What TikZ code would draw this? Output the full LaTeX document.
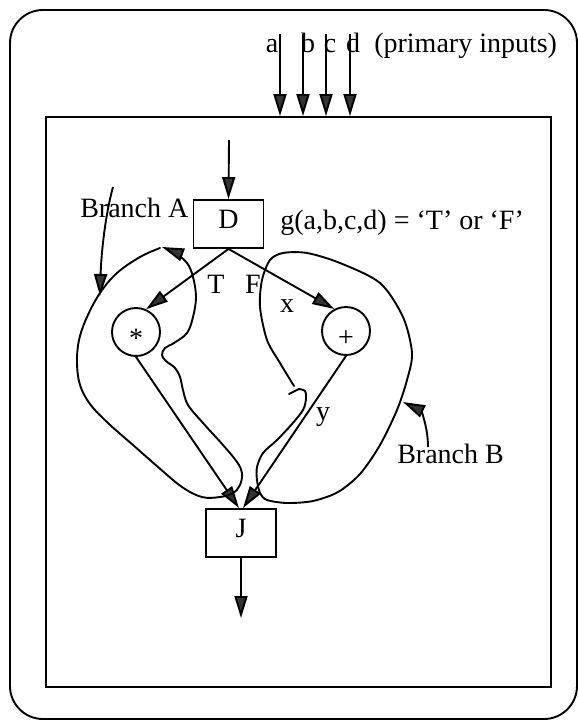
\documentclass[tikz,border=0pt]{standalone}
\usepackage{fontspec}
\setmainfont{Liberation Serif}
\usetikzlibrary{arrows.meta,calc}
\begin{document}
\begin{tikzpicture}[x=1pt,y=-1pt,line width=1.9pt,
  every node/.style={font=\fontsize{28}{32}\selectfont},
  arr/.style={-{Triangle[length=22pt,width=13pt,fill=black!80]}},
  box/.style={draw,minimum width=70pt,minimum height=48pt,inner sep=0pt,text height=18.5pt,text depth=10pt},
  circ/.style={draw,circle,minimum size=48pt,inner sep=0pt,text height=30pt,text depth=0pt},
  loop/.style={line join=round,line cap=round}
]
\useasboundingbox (0,0) rectangle (578,720);
% frames
\draw[rounded corners=33pt] (10,10) rectangle (577,719);
\node[draw,minimum width=505pt,minimum height=570pt,inner sep=0pt] (sys) at (298.5,402) {};
% primary inputs
\node[anchor=base] (la) at (272,52) {a};
\node[anchor=base] (lb) at (308,52) {b};
\node[anchor=base] (lc) at (330,52) {c};
\node[anchor=base] (ld) at (353,52) {d};
\node[anchor=base west] (lp) at (370,52) {(primary inputs)};
\foreach \n/\x in {a/280,b/303,c/326,d/350}{
  \coordinate (in\n) at (\x,34);
  \draw[arr] (in\n) -- (in\n |- sys.north);
}
% nodes
\node[box] (D) at (228.5,224) {D};
\node[box] (J) at (241,533) {J};
\node[circ] (mul) at (136,332) {*};
\node[circ] (add) at (346,331) {+};
\coordinate (Din) at (229,140);
\coordinate (Jout) at (241,618);
\draw[arr] (Din) -- (D.north);
\draw[arr] (J.south) -- (Jout);
\draw[arr] (D.south) -- (mul.66);
\draw[arr] (D.south) -- (add.118);
\draw[arr] (mul.south) -- ([xshift=-2pt]J.north);
\draw[arr] (add.south) -- ([xshift=2pt]J.north);
% labels
\node[anchor=base west] (g) at (276,229) {g(a,b,c,d) = ‘T’ or ‘F’};
\node[anchor=base] (T) at (216,293) {T};
\node[anchor=base] (F) at (253,293) {F};
\node[anchor=base] (x) at (287,312) {x};
\node[anchor=base] (y) at (323,420) {y};
\node[anchor=base west] (brA) at (76,217) {Branch A};
\node[anchor=base west] (brB) at (393,463) {Branch B};
% branch pointers
\coordinate (pa) at (113,187);
\coordinate (pat) at (100,296);
\draw[arr] (pa) .. controls (104,220) and (101,260) .. (pat);
\coordinate (pb) at (428,447);
\coordinate (pbt) at (403,402);
\draw[arr] (pb) .. controls (428,425) and (420,410) .. (pbt);
% branch A loop
\draw[arr,loop] plot[smooth,tension=0.6] coordinates {
 (160,248) (140,257) (117,273) (100,293) (87,317) (79,340) (77,363) (80,385)
 (90,404) (108,423) (133,445) (158,467) (182,487) (202,497) (220,497) (233,493) (240,485)
 (242,473) (237,462) (223,445) (203,423) (188,405) (183,390) (180,377) (175,368)
 (166,361) (162,355) (165,348) (174,343) (187,333) (193,317) (196,297) (193,277)
 (187,263) (175,253) (162,247)};
% branch B loop
\draw[loop] (289,394) -- (299,389) plot[smooth,tension=0.5] coordinates {
 (299,389) (305,391) (306,399) (303,410) (292,424) (277,440) (263,453)
 (257,467) (257,480) (260,493) (267,500) (287,503) (313,501) (338,492) (360,474)
 (380,445) (397,410) (407,380) (412,353) (403,317) (380,283) (340,263) (307,253)
 (283,253) (270,260) (262,280) (260,307) (267,340) (280,363) (294,386)};
\end{tikzpicture}
\end{document}
